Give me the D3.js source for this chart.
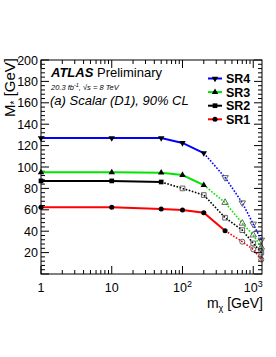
<!DOCTYPE html>
<html><head><meta charset="utf-8">
<script src="https://cdn.jsdelivr.net/npm/d3@7"></script>
<style>body{margin:0;background:#fff}svg{display:block}text{font-family:"Liberation Sans",Arial,sans-serif}</style>
</head><body>
<script>
const masses = [1, 10, 50, 100, 200, 400, 700, 1000, 1300];
const sr4 = [127, 127, 127, 122.5, 113, 90.2, 66.6, 46.7, 31.8];
const sr3 = [95, 95, 94.7, 92.5, 83, 66.8, 47.4, 36.4, 25];
const sr2 = [87, 87, 86, 80, 73.8, 52.6, 41, 28.6, 20];
const sr1 = [62.3, 62.3, 60.7, 59.8, 57.3, 40.5, 30.2, 23, 13.5];
const seriesNames = ["SR4", "SR3", "SR2", "SR1"];
const yTicks = [20, 40, 60, 80, 100, 120, 140, 160, 180, 200];
const xTickLabels = [["1", null], ["10", null], ["10", "2"], ["10", "3"]];

const W = 276, H = 357;
const L = 41, R = 262, T = 60, B = 274;
const svg = d3.select("body").append("svg").attr("width", W).attr("height", H);
const x = d3.scaleLog().domain([1, 1330]).range([L, R]);
const y = d3.scaleLinear().domain([0, 200]).range([B, T]);

const xMinor = [];
for (let d = 1; d <= 1000; d *= 10) for (let k = 2; k <= 9; k++) if (d * k <= 1330) xMinor.push(d * k);
const xMajor = [1, 10, 100, 1000];
const yMinor = d3.range(0, 201, 4);

const g = svg.append("g").attr("stroke", "#000").attr("stroke-width", 1);
xMajor.forEach(v => {
  g.append("line").attr("x1", x(v)).attr("x2", x(v)).attr("y1", B).attr("y2", B - 8);
  g.append("line").attr("x1", x(v)).attr("x2", x(v)).attr("y1", T).attr("y2", T + 8);
});
xMinor.forEach(v => {
  g.append("line").attr("x1", x(v)).attr("x2", x(v)).attr("y1", B).attr("y2", B - 4);
  g.append("line").attr("x1", x(v)).attr("x2", x(v)).attr("y1", T).attr("y2", T + 4);
});
yMinor.forEach(v => {
  const len = v % 20 === 0 ? 8 : 4;
  g.append("line").attr("x1", L).attr("x2", L + len).attr("y1", y(v)).attr("y2", y(v));
  g.append("line").attr("x1", R).attr("x2", R - len).attr("y1", y(v)).attr("y2", y(v));
});

yTicks.forEach(v => {
  svg.append("text").attr("x", L - 3).attr("y", y(v) + 4.5).attr("text-anchor", "end")
    .attr("font-size", 12.5).text(v);
});
xMajor.forEach((v, i) => {
  const t = svg.append("text").attr("x", x(v)).attr("y", 292).attr("text-anchor", "middle").attr("font-size", 12.5);
  t.append("tspan").text(xTickLabels[i][0]);
  if (xTickLabels[i][1]) t.append("tspan").attr("dy", -5).attr("font-size", 9).text(xTickLabels[i][1]);
});

const xt = svg.append("text").attr("x", R + 1).attr("y", 308).attr("text-anchor", "end").attr("font-size", 14);
xt.append("tspan").text("m");
xt.append("tspan").attr("dy", 3).attr("font-size", 9).text("χ");
xt.append("tspan").attr("dy", -3).text(" [GeV]");
const yt = svg.append("text").attr("transform", `translate(15,58) rotate(-90)`).attr("text-anchor", "end").attr("font-size", 15);
yt.append("tspan").text("M");
yt.append("tspan").attr("dy", 3).attr("font-size", 10).text("*");
yt.append("tspan").attr("dy", -3).text(" [GeV]");

const series = [
  {name: "SR4", vals: sr4, color: "#0000ff", shape: "down", solidEnd: 4, filledEnd: 4},
  {name: "SR3", vals: sr3, color: "#00e600", shape: "up", solidEnd: 4, filledEnd: 4},
  {name: "SR2", vals: sr2, color: "#000000", shape: "square", solidEnd: 2, filledEnd: 2},
  {name: "SR1", vals: sr1, color: "#ff0000", shape: "circle", solidEnd: 5, filledEnd: 5}
];
const line = d3.line().x(d => x(d[0])).y(d => y(d[1]));
function marker(sel, shape, cx, cy, filled) {
  const sym = {down: d3.symbolTriangle, up: d3.symbolTriangle, square: d3.symbolSquare, circle: d3.symbolCircle}[shape];
  const size = shape === "circle" ? 20 : (shape === "square" ? 22 : 18);
  sel.append("path").attr("d", d3.symbol(sym, size)())
    .attr("transform", `translate(${cx},${cy})` + (shape === "down" ? " rotate(180)" : ""))
    .attr("fill", filled ? "#000" : "none").attr("stroke", filled ? "none" : "#555").attr("stroke-width", 0.9);
}
series.forEach(s => {
  const pts = masses.map((m, i) => [m, s.vals[i]]);
  svg.append("path").attr("d", line(pts.slice(0, s.solidEnd + 1))).attr("fill", "none")
    .attr("stroke", s.color).attr("stroke-width", 2);
  svg.append("path").attr("d", line(pts.slice(s.solidEnd))).attr("fill", "none")
    .attr("stroke", s.color).attr("stroke-width", 1.6).attr("stroke-dasharray", "1.6,1.6");
});
series.forEach(s => {
  masses.forEach((m, i) => marker(svg, s.shape, x(m), y(s.vals[i]), i <= s.filledEnd));
});

svg.append("rect").attr("x", L).attr("y", T).attr("width", R - L).attr("height", B - T)
  .attr("fill", "none").attr("stroke", "#000").attr("stroke-width", 1);

const t1 = svg.append("text").attr("x", 51).attr("y", 77).attr("font-size", 13);
t1.append("tspan").attr("font-weight", "bold").attr("font-style", "italic").text("ATLAS");
t1.append("tspan").text(" Preliminary");
const t2 = svg.append("text").attr("x", 51).attr("y", 90).attr("font-size", 7.5).attr("font-style", "italic");
t2.append("tspan").text("20.3 fb");
t2.append("tspan").attr("dy", -3).attr("font-size", 5.5).text("-1");
t2.append("tspan").attr("dy", 3).text(", √s = 8 TeV");
svg.append("text").attr("x", 50).attr("y", 105).attr("font-size", 13).attr("font-style", "italic")
  .text("(a) Scalar (D1), 90% CL");

series.forEach((s, i) => {
  const cy = 78.5 + i * 13.6;
  svg.append("line").attr("x1", 208).attr("x2", 222).attr("y1", cy).attr("y2", cy)
    .attr("stroke", s.color).attr("stroke-width", 2);
  marker(svg, s.shape, 215, cy, true);
  svg.append("text").attr("x", 226).attr("y", cy + 4.5).attr("font-size", 12.5).attr("font-weight", "bold").text(s.name);
});
</script>
</body></html>
